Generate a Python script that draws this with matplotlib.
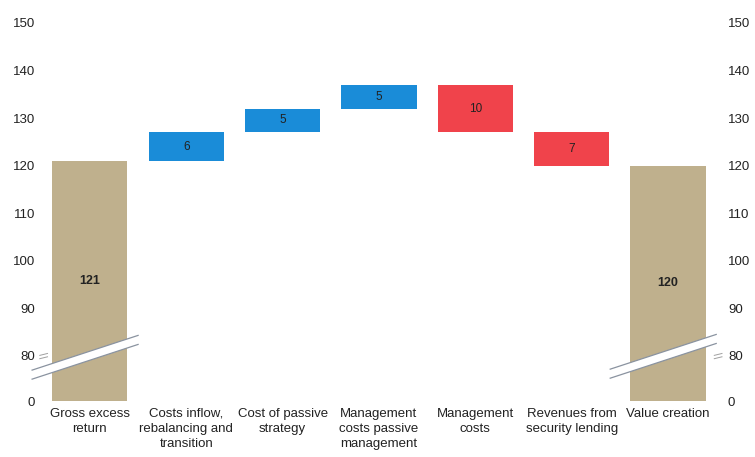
import numpy as np
import matplotlib
matplotlib.use('Agg')
import matplotlib.pyplot as plt
from matplotlib.patches import Polygon

plt.rcParams['font.family'] = ['Liberation Sans', 'DejaVu Sans']

categories = ['Gross excess\nreturn', 'Costs inflow,\nrebalancing and\ntransition',
              'Cost of passive\nstrategy', 'Management\ncosts passive\nmanagement',
              'Management\ncosts', 'Revenues from\nsecurity lending', 'Value creation']
steps = [121, 6, 5, 5, -10, -7, 120]
kinds = ['total', 'step', 'step', 'step', 'step', 'step', 'total']
ytick_values = [0, 80, 90, 100, 110, 120, 130, 140, 150]

TAN = '#BFB08D'
BLUE = '#1A8CD8'
RED = '#F0434B'

# broken axis: everything below 80 squeezed into 9.5 units
def fwd(v):
    v = np.asarray(v, dtype=float)
    return np.where(v >= 80, v, 70.5 + v * 9.5 / 80)

def inv(s):
    s = np.asarray(s, dtype=float)
    return np.where(s >= 80, s, (s - 70.5) * 80 / 9.5)

fig = plt.figure(figsize=(7.55, 4.57), dpi=100)
ax = fig.add_axes([0.054, 0.1225, 0.901, 0.8272])
ax.set_yscale('function', functions=(fwd, inv))

x = np.arange(len(categories))
bottoms, heights, colors, labels = [], [], [], []
level = 0
for s, k in zip(steps, kinds):
    if k == 'total':
        bottoms.append(0)
        heights.append(s)
        colors.append(TAN)
        level = s
    else:
        lo, hi = (level, level + s) if s > 0 else (level + s, level)
        bottoms.append(lo)
        heights.append(hi - lo)
        colors.append(BLUE if s > 0 else RED)
        level += s
    labels.append(str(abs(s)))

ax.bar(x, heights, bottom=bottoms, width=0.78, color=colors, linewidth=0)

for xi, b, h, lab, k in zip(x, bottoms, heights, labels, kinds):
    mid = inv((fwd(b) + fwd(b + h)) / 2)
    ax.text(xi, mid, lab, ha='center', va='center', fontsize=9 if k == 'total' else 8.5,
            fontweight='bold' if k == 'total' else 'normal', color='#222222')

ax.set_xlim(-0.51, 6.55)
ax.set_ylim(0, 150)
ax.set_yticks(ytick_values)
ax.set_yticklabels([str(v) for v in ytick_values])
ax.tick_params(axis='y', length=0, pad=4, labelsize=9.5, labelcolor='#222222')
ax.set_xticks(x)
ax.set_xticklabels(categories, fontsize=9.5, color='#222222', linespacing=1.35)
ax.tick_params(axis='x', length=0, pad=5)
for sp in ax.spines.values():
    sp.set_visible(False)

ax2 = ax.twinx()
ax2.set_yscale('function', functions=(fwd, inv))
ax2.set_ylim(0, 150)
ax2.set_yticks(ytick_values)
ax2.set_yticklabels([str(v) for v in ytick_values])
ax2.tick_params(axis='y', length=0, pad=5, labelsize=9.5, labelcolor='#222222')
for sp in ax2.spines.values():
    sp.set_visible(False)

# break bands across the two total bars (axes fraction from data x / scaled y)
x0, x1 = ax.get_xlim()
def to_axes(xd, s):
    return ((xd - x0) / (x1 - x0), (s - 70.5) / (150 - 70.5))

def band(xa, xb, sa, sb, w=1.9):
    p1 = to_axes(xa, sa)
    p2 = to_axes(xb, sb)
    p3 = to_axes(xb, sb - w)
    p4 = to_axes(xa, sa - w)
    ax.add_patch(Polygon([p1, p2, p3, p4], closed=True, transform=ax.transAxes,
                         facecolor='white', edgecolor='none', clip_on=False, zorder=5))
    ax.plot([p1[0], p2[0]], [p1[1], p2[1]], color='#8A93A0', lw=0.9,
            transform=ax.transAxes, clip_on=False, zorder=6)
    ax.plot([p4[0], p3[0]], [p4[1], p3[1]], color='#8A93A0', lw=0.9,
            transform=ax.transAxes, clip_on=False, zorder=6)

band(-0.6, 0.5, 77.0, 84.3)
band(5.4, 6.5, 77.2, 84.5)

# small "=" marks beside the 80 labels
for xa in (-0.48, 6.52):
    for ds in (0.0, 0.7):
        pa = to_axes(xa - 0.04, 79.4 + ds)
        pb = to_axes(xa + 0.04, 79.8 + ds)
        ax.plot([pa[0], pb[0]], [pa[1], pb[1]], color='#A0A0A0', lw=0.7,
                transform=ax.transAxes, clip_on=False, zorder=6)

fig.savefig('out.png', dpi=100)
